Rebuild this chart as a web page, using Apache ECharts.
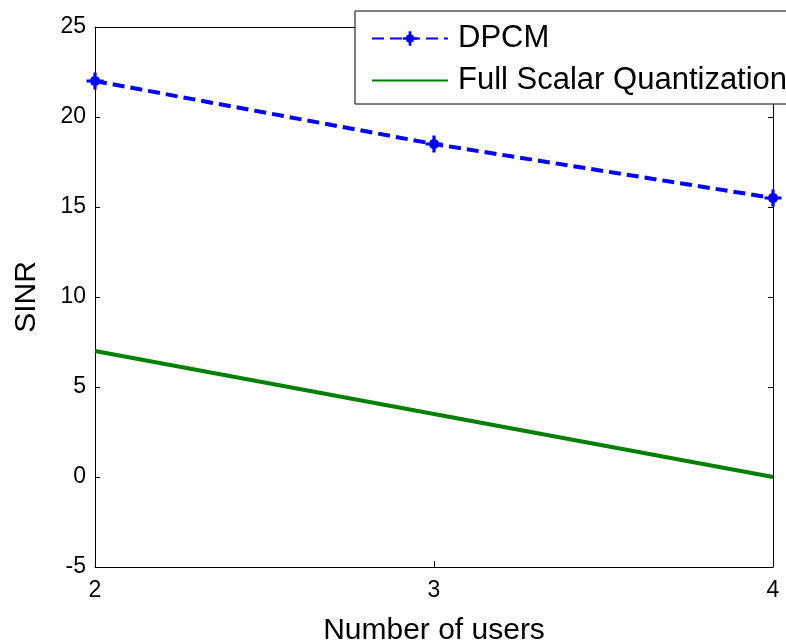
<!DOCTYPE html>
<html>
<head>
<meta charset="utf-8">
<script src="https://cdn.jsdelivr.net/npm/echarts@6/dist/echarts.min.js"></script>
<style>
html,body{margin:0;padding:0;background:#fff;}
#chart{width:786px;height:643px;}
</style>
</head>
<body>
<div id="chart"></div>
<script>
var users = [2, 3, 4];
var dpcm = [22, 18.5, 15.5];
var fullScalar = [7, 3.5, 0];
var seriesNames = ['DPCM', 'Full Scalar Quantization'];
var xTicks = {min: 2, max: 4, interval: 1};
var yTicks = {min: -5, max: 25, interval: 5};

function pairs(xs, ys) { return xs.map(function (x, i) { return [x, ys[i]]; }); }

var FONT = '"Liberation Sans", Arial, sans-serif';
var starPath = 'path://M-1.5,-8 L1.5,-8 L1.5,-4.5 L3.5,-3.5 L4.5,-1.5 L8,-1.5 L8,1.5 L4.5,1.5 L3.5,3.5 L1.5,4.5 L1.5,8 L-1.5,8 L-1.5,4.5 L-3.5,3.5 L-4.5,1.5 L-8,1.5 L-8,-1.5 L-4.5,-1.5 L-3.5,-3.5 L-1.5,-4.5 Z';

var chart = echarts.init(document.getElementById('chart'), null, {renderer: 'canvas'});
var axisLine = {show: true, onZero: false, lineStyle: {color: '#000', width: 1}};
chart.setOption({
  animation: false,
  backgroundColor: '#fff',
  grid: {left: 95, right: 13, top: 27, bottom: 76, containLabel: false, outerBoundsMode: 'none'},
  legend: {
    data: [
      {name: seriesNames[0]},
      {name: seriesNames[1], itemStyle: {opacity: 0}}
    ],
    left: 355, top: 11,
    orient: 'vertical',
    backgroundColor: '#fff',
    borderColor: '#000', borderWidth: 1,
    padding: [12, 20, 8, 16],
    itemWidth: 76, itemHeight: 18,
    itemGap: 11,
    textStyle: {fontFamily: FONT, fontSize: 31, color: '#000', lineHeight: 30, padding: [0, 0, 0, 5]},
    z: 10
  },
  xAxis: [{
    type: 'value', position: 'bottom',
    min: xTicks.min, max: xTicks.max, interval: xTicks.interval,
    name: 'Number of users', nameLocation: 'middle', nameGap: 49,
    nameTextStyle: {fontFamily: FONT, fontSize: 30, color: '#000'},
    axisLine: axisLine,
    axisTick: {show: true, inside: true, length: 6, lineStyle: {color: '#000'}},
    axisLabel: {fontFamily: FONT, fontSize: 23, color: '#000', margin: 12},
    splitLine: {show: false}
  }, {
    type: 'value', position: 'top',
    min: xTicks.min, max: xTicks.max, interval: xTicks.interval,
    axisLine: axisLine,
    axisTick: {show: true, inside: true, length: 6, lineStyle: {color: '#000'}},
    axisLabel: {show: false},
    splitLine: {show: false}
  }],
  yAxis: [{
    type: 'value', position: 'left',
    min: yTicks.min, max: yTicks.max, interval: yTicks.interval,
    name: 'SINR', nameLocation: 'middle', nameGap: 53, nameRotate: 90,
    nameTextStyle: {fontFamily: FONT, fontSize: 30, color: '#000'},
    axisLine: axisLine,
    axisTick: {show: true, inside: true, length: 5, lineStyle: {color: '#000'}},
    axisLabel: {fontFamily: FONT, fontSize: 23, color: '#000', margin: 9},
    splitLine: {show: false}
  }, {
    type: 'value', position: 'right',
    min: yTicks.min, max: yTicks.max, interval: yTicks.interval,
    axisLine: axisLine,
    axisTick: {show: true, inside: true, length: 5, lineStyle: {color: '#000'}},
    axisLabel: {show: false},
    splitLine: {show: false}
  }],
  series: [{
    name: seriesNames[0], type: 'line',
    data: pairs(users, dpcm),
    xAxisIndex: 0, yAxisIndex: 0,
    lineStyle: {color: '#0000ff', width: 4, type: [12, 6]},
    itemStyle: {color: '#0000ff'},
    symbol: starPath, symbolSize: 17, showSymbol: true,
    clip: false, z: 3
  }, {
    name: seriesNames[1], type: 'line',
    data: pairs(users, fullScalar),
    xAxisIndex: 0, yAxisIndex: 0,
    lineStyle: {color: '#008000', width: 4},
    itemStyle: {color: '#008000'},
    symbol: 'none', showSymbol: false,
    clip: false, z: 2
  }]
});
</script>
</body>
</html>
